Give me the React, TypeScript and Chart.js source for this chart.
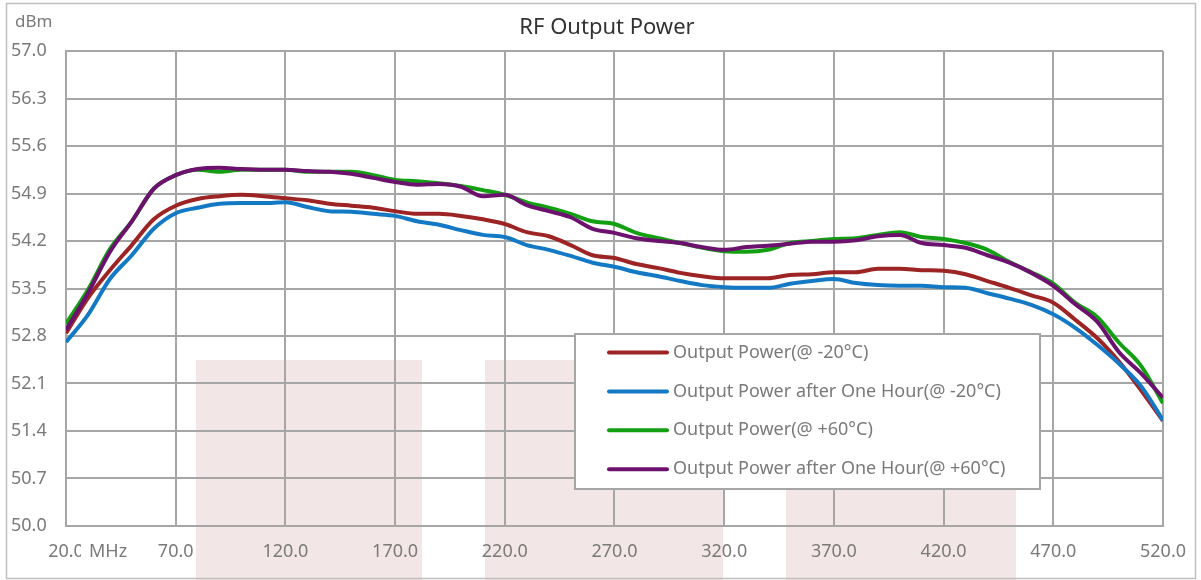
import React, { useEffect, useRef } from "react";
import { Chart, registerables } from "chart.js";

Chart.register(...registerables);

const freqMHz = [
  20, 30, 40, 50, 60, 70, 80, 90, 100, 110, 120, 130, 140, 150, 160, 170, 180,
  190, 200, 210, 220, 230, 240, 250, 260, 270, 280, 290, 300, 310, 320, 330,
  340, 350, 360, 370, 380, 390, 400, 410, 420, 430, 440, 450, 460, 470, 480,
  490, 500, 510, 520,
];

const powerCold = [
  52.84, 53.36, 53.77, 54.14, 54.52, 54.72, 54.82, 54.86, 54.88, 54.86, 54.83,
  54.8, 54.75, 54.72, 54.69, 54.64, 54.6, 54.6, 54.57, 54.52, 54.45, 54.33,
  54.27, 54.14, 53.99, 53.95, 53.86, 53.8, 53.73, 53.68, 53.65, 53.65, 53.65,
  53.7, 53.71, 53.74, 53.74, 53.79, 53.79, 53.77, 53.76, 53.71, 53.61, 53.51,
  53.4, 53.29, 53.04, 52.77, 52.42, 52.0, 51.55,
];

const powerColdHour = [
  52.71, 53.11, 53.64, 53.99, 54.38, 54.61, 54.69, 54.75, 54.76, 54.76, 54.77,
  54.7, 54.64, 54.63, 54.6, 54.57, 54.49, 54.44, 54.36, 54.29, 54.26, 54.14,
  54.07, 53.98, 53.88, 53.82, 53.74, 53.68, 53.61, 53.55, 53.52, 53.51, 53.51,
  53.57, 53.61, 53.64, 53.58, 53.55, 53.54, 53.54, 53.52, 53.51, 53.43, 53.35,
  53.26, 53.12, 52.92, 52.67, 52.39, 52.06, 51.56,
];

const powerHot = [
  52.98, 53.48, 54.08, 54.49, 54.97, 55.17, 55.25, 55.22, 55.25, 55.25, 55.25,
  55.22, 55.22, 55.22, 55.17, 55.1, 55.08, 55.05, 55.01, 54.95, 54.88, 54.77,
  54.69, 54.6, 54.49, 54.45, 54.32, 54.24, 54.17, 54.1, 54.05, 54.04, 54.07,
  54.17, 54.2, 54.23, 54.24, 54.29, 54.33, 54.26, 54.23, 54.17, 54.07, 53.89,
  53.74, 53.57, 53.29, 53.08, 52.7, 52.36, 51.81,
];

const powerHotHour = [
  52.89, 53.43, 54.04, 54.49, 54.97, 55.17, 55.26, 55.28, 55.26, 55.25, 55.25,
  55.23, 55.22, 55.19, 55.13, 55.07, 55.03, 55.04, 55.0, 54.86, 54.88, 54.73,
  54.64, 54.55, 54.38, 54.32, 54.24, 54.2, 54.17, 54.11, 54.07, 54.11, 54.13,
  54.16, 54.19, 54.19, 54.21, 54.27, 54.29, 54.17, 54.14, 54.1, 53.99, 53.88,
  53.73, 53.54, 53.27, 53.01, 52.56, 52.25, 51.89,
];

const yTickValues = [50.0, 50.7, 51.4, 52.1, 52.8, 53.5, 54.2, 54.9, 55.6, 56.3, 57.0];
const xTickValues = [20, 70, 120, 170, 220, 270, 320, 370, 420, 470, 520];

const seriesLabels = [
  "Output Power(@ -20°C)",
  "Output Power after One Hour(@ -20°C)",
  "Output Power(@ +60°C)",
  "Output Power after One Hour(@ +60°C)",
];
const seriesColors = ["#9C2424", "#1479C4", "#12A012", "#6C116E"];
const seriesValues = [powerCold, powerColdHour, powerHot, powerHotHour];
const seriesOrder = [3, 2, 1, 0];

const titleText = "RF Output Power";
const yUnit = "dBm";
const xUnit = "MHz";

const FONT = "'Noto Sans', 'Open Sans', sans-serif";
const GRAY_TEXT = "#7A7A7A";
const GRID = "#A6A6A6";

const decorPlugin = {
  id: "decor",
  beforeDraw(chart: any) {
    const ctx = chart.ctx;
    ctx.save();
    ctx.fillStyle = "#ffffff";
    ctx.fillRect(0, 0, chart.width, chart.height);
    ctx.fillStyle = "#F3E6E6";
    const bands = [
      [196, 422],
      [485, 723],
      [786, 1016],
    ];
    for (const [a, b] of bands) ctx.fillRect(a, 360, b - a, chart.height - 360);
    ctx.strokeStyle = "#BFBFBF";
    ctx.lineWidth = 1.5;
    ctx.strokeRect(6.5, 3.5, 1189, 575);
    ctx.restore();
  },
  afterDraw(chart: any) {
    const ctx = chart.ctx;
    ctx.save();
    // title
    ctx.fillStyle = "#333333";
    ctx.font = `22px ${FONT}`;
    ctx.textAlign = "center";
    ctx.textBaseline = "middle";
    ctx.fillText(titleText, 607, 28);
    // y unit
    ctx.fillStyle = GRAY_TEXT;
    ctx.font = `17px ${FONT}`;
    ctx.textAlign = "left";
    ctx.fillText(yUnit, 15, 22);
    // x unit, covering part of first tick label
    ctx.fillStyle = "#ffffff";
    ctx.fillRect(81, 538, 50, 28);
    ctx.fillStyle = GRAY_TEXT;
    ctx.font = `18px ${FONT}`;
    ctx.fillText(xUnit, 89, 552);
    // legend
    const lx = 575, ly = 334, lw = 465, lh = 155;
    ctx.fillStyle = "#ffffff";
    ctx.fillRect(lx, ly, lw, lh);
    ctx.strokeStyle = GRID;
    ctx.lineWidth = 2;
    ctx.strokeRect(lx, ly, lw, lh);
    chart.data.datasets.forEach((ds: any, i: number) => {
      const y = 352.5 + i * 38.9;
      ctx.strokeStyle = ds.borderColor;
      ctx.lineWidth = 4;
      ctx.lineCap = "round";
      ctx.beginPath();
      ctx.moveTo(609, y);
      ctx.lineTo(667, y);
      ctx.stroke();
      ctx.fillStyle = GRAY_TEXT;
      ctx.font = `18px ${FONT}`;
      ctx.textAlign = "left";
      ctx.textBaseline = "middle";
      ctx.fillText(ds.label, 673, y);
    });
    ctx.restore();
  },
};

export default function App() {
  const ref = useRef<HTMLCanvasElement | null>(null);

  useEffect(() => {
    document.body.style.margin = "0";
    const canvas = ref.current;
    if (!canvas) return;
    const datasets = seriesValues.map((vals, i) => ({
      label: seriesLabels[i],
      data: freqMHz.map((f, j) => ({ x: f, y: vals[j] })),
      borderColor: seriesColors[i],
      backgroundColor: seriesColors[i],
      borderWidth: 4,
      pointRadius: 0,
      tension: 0.4,
      cubicInterpolationMode: "monotone" as const,
      fill: false,
      order: seriesOrder[i],
    }));
    const chart = new Chart(canvas, {
      type: "line",
      data: { datasets },
      options: {
        responsive: false,
        animation: false,
        devicePixelRatio: 1,
        layout: { padding: { left: 11, top: 51, right: 38, bottom: 0 } },
        plugins: {
          legend: { display: false },
          title: { display: false },
          tooltip: { enabled: false },
        },
        scales: {
          x: {
            type: "linear",
            min: 20,
            max: 520,
            afterFit: (s: any) => {
              s.height = 54;
            },
            afterBuildTicks: (s: any) => {
              s.ticks = xTickValues.map((v) => ({ value: v }));
            },
            ticks: {
              color: GRAY_TEXT,
              font: { family: FONT, size: 18 },
              padding: 15,
              maxRotation: 0,
              autoSkip: false,
              callback: (v: any) => Number(v).toFixed(1),
            },
            grid: { color: GRID, lineWidth: 2, drawTicks: false },
            border: { display: true, color: GRID, width: 2 },
          },
          y: {
            type: "linear",
            min: 50,
            max: 57,
            afterFit: (s: any) => {
              s.width = 55;
            },
            afterBuildTicks: (s: any) => {
              s.ticks = yTickValues.map((v) => ({ value: v }));
            },
            ticks: {
              color: GRAY_TEXT,
              font: { family: FONT, size: 18 },
              crossAlign: "far",
              padding: 0,
              autoSkip: false,
              callback: (v: any) => Number(v).toFixed(1),
            },
            grid: { color: GRID, lineWidth: 2, drawTicks: false },
            border: { display: true, color: GRID, width: 2 },
          },
        },
      },
      plugins: [decorPlugin],
    });
    return () => chart.destroy();
  }, []);

  return <canvas ref={ref} width={1201} height={580} style={{ display: "block" }} />;
}
